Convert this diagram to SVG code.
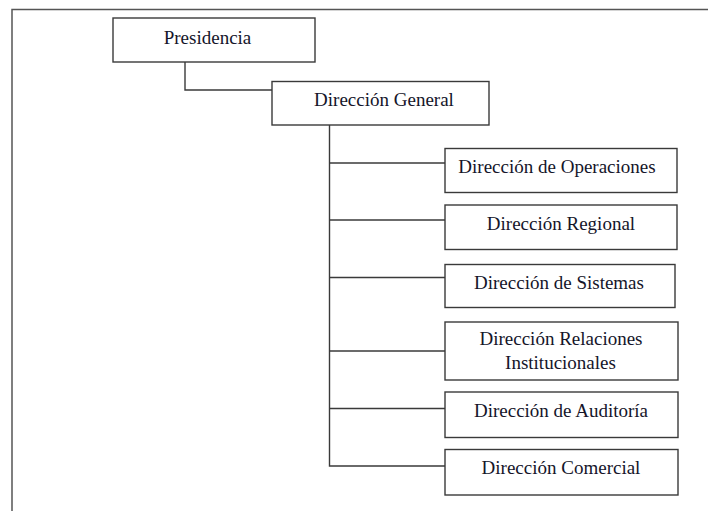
<svg xmlns="http://www.w3.org/2000/svg" width="708" height="511" viewBox="0 0 708 511">
<style>
.box{fill:#fff;stroke:#3a3a3a;stroke-width:1.4}
.lbl{font-family:"Liberation Serif","Times New Roman",serif;font-size:19px;fill:#15152a;text-anchor:middle}
.con{fill:none;stroke:#3a3a3a;stroke-width:1.4}
.frame{fill:none;stroke:#555;stroke-width:1.5}
</style>
<rect width="708" height="511" fill="#fff"/>
<path class="frame" d="M12,511 V9.5 H708"/>
<g id="connectors">
<path class="con" d="M185,62 V90 H272"/>
<path class="con" d="M329.5,125 V466 H445"/>
<path class="con" d="M329.5,163 H445"/>
<path class="con" d="M329.5,220 H445"/>
<path class="con" d="M329.5,277.5 H445"/>
<path class="con" d="M329.5,351 H445"/>
<path class="con" d="M329.5,408.5 H445"/>
</g>
<g id="presidencia">
<rect class="box" x="113" y="18" width="202" height="44"/>
<text class="lbl" x="207.5" y="43.5">Presidencia</text>
</g>
<g id="direccion-general">
<rect class="box" x="272" y="81.5" width="217" height="43.5"/>
<text class="lbl" x="384" y="106">Dirección General</text>
</g>
<g id="operaciones">
<rect class="box" x="445" y="148.5" width="232" height="44"/>
<text class="lbl" x="557" y="173">Dirección de Operaciones</text>
</g>
<g id="regional">
<rect class="box" x="445" y="205" width="232" height="44.5"/>
<text class="lbl" x="561" y="230">Dirección Regional</text>
</g>
<g id="sistemas">
<rect class="box" x="445" y="264.5" width="230" height="43"/>
<text class="lbl" x="559" y="289">Dirección de Sistemas</text>
</g>
<g id="relaciones">
<rect class="box" x="445" y="322" width="233" height="58"/>
<text class="lbl" x="561" y="345">Dirección Relaciones</text>
<text class="lbl" x="560.5" y="369">Institucionales</text>
</g>
<g id="auditoria">
<rect class="box" x="445" y="392" width="233" height="45.5"/>
<text class="lbl" x="561" y="416.5">Dirección de Auditoría</text>
</g>
<g id="comercial">
<rect class="box" x="445" y="449.5" width="233" height="45.5"/>
<text class="lbl" x="561" y="474">Dirección Comercial</text>
</g>
</svg>
